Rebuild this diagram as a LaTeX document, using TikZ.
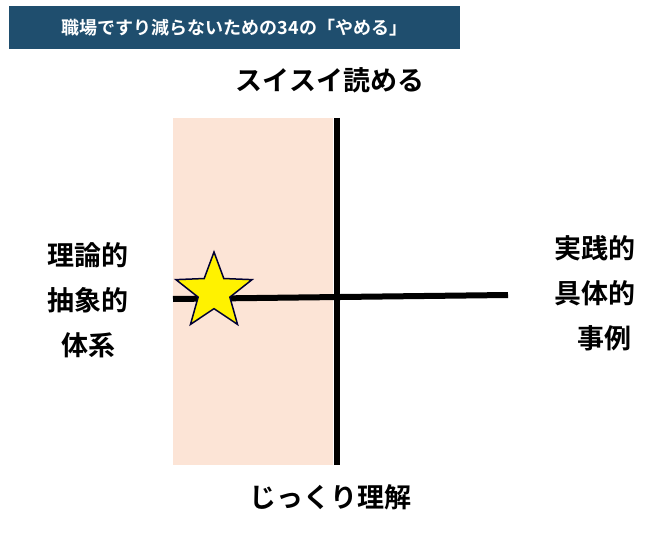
\documentclass[tikz,border=0pt]{standalone}
\usepackage{fontspec}
\newfontfamily\cjk{Noto Sans CJK JP Bold}
\usetikzlibrary{shapes.geometric}
\definecolor{titlebg}{HTML}{1F4E6E}
\definecolor{pinkbg}{HTML}{FCE4D6}
\begin{document}
\begin{tikzpicture}[x=1pt,y=-1pt,
  lbl/.style={font=\cjk\fontsize{27}{45}\selectfont,text=black,align=center},
  axis/.style={line width=6pt,black}]
\useasboundingbox (0,0) rectangle (655,534);
\node[draw=white,line width=1pt,fill=titlebg,text=white,font=\cjk\fontsize{18}{20}\selectfont,minimum height=44pt,minimum width=452pt,inner xsep=3pt,anchor=north west] (title) at (8,5) {職場ですり減らないための34の「やめる」};
\fill[pinkbg] (173,118) rectangle (333,465);
\coordinate (vt) at (337,118);
\coordinate (vb) at (337,465);
\coordinate (hl) at (173,299);
\coordinate (hr) at (508,295);
\draw[axis] (vt) -- (vb);
\draw[axis] (hl) -- (hr);
\node[star,star points=5,star point ratio=2.4,fill=yellow,draw=black!80!blue,line width=1.5pt,minimum size=80pt,inner sep=0pt] (star) at (214,292) {};
\node[lbl] (top) at (330,80) {スイスイ読める};
\node[lbl] (bot) at (330,497) {じっくり理解};
\node[lbl] (left) at (88,300) {理論的\\抽象的\\体系};
\node[lbl,align=right] (right) at (595,293) {実践的\\具体的\\事例\,};
\end{tikzpicture}
\end{document}
